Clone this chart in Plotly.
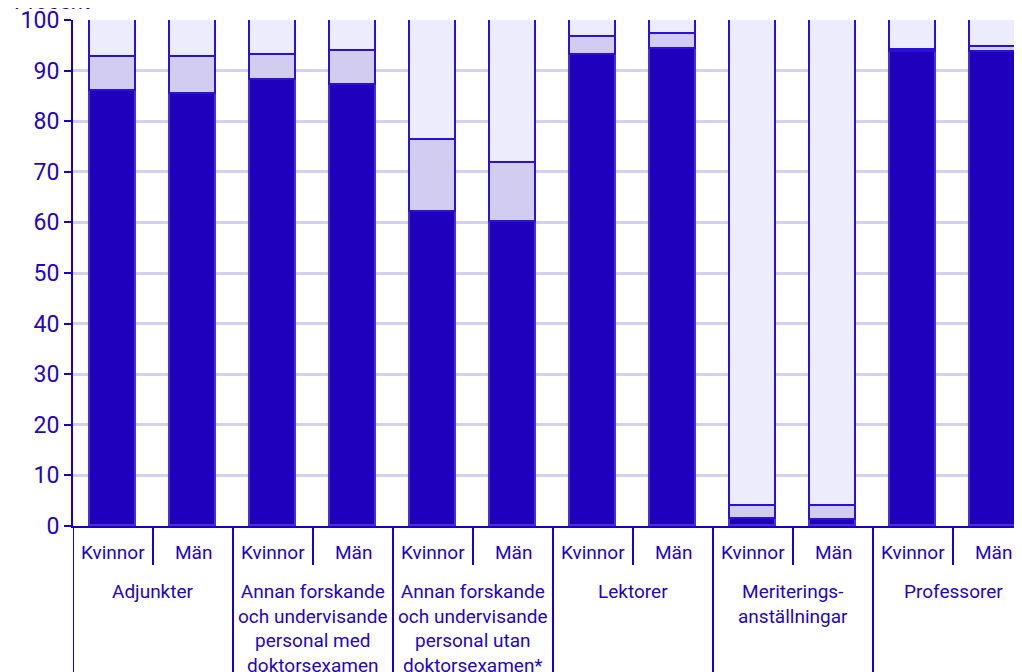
import plotly.graph_objects as go

groups = [
    "Adjunkter",
    "Annan forskande<br>och undervisande<br>personal med<br>doktorsexamen",
    "Annan forskande<br>och undervisande<br>personal utan<br>doktorsexamen*",
    "Lektorer",
    "Meriterings-<br>anställningar",
    "Professorer",
]
sexes = ["Kvinnor", "Män"]

# Shares (percent) per bar: order = group x sex
share_dark = [86.0, 85.4, 88.1, 87.2, 62.1, 60.0, 93.1, 94.3, 1.3, 1.2, 93.6, 93.7]
share_mid = [6.7, 7.3, 4.9, 6.7, 14.2, 11.7, 3.6, 3.0, 2.7, 2.8, 0.5, 1.0]
share_light = [round(100 - a - b, 1) for a, b in zip(share_dark, share_mid)]

series_names = ["Andel 1", "Andel 2", "Andel 3"]

BLUE = "#2000c0"
TEXT = "#2205c8"
GRID = "#d3cfef"
FONT = "Roboto"

n = len(groups) * len(sexes)
xs = list(range(n))
labels = [sexes[i % 2] for i in xs]

PH = 506  # plot height in px

fig = go.Figure()
for vals, col, name, edge in [
    (share_dark, "#1f00bd", series_names[0], "#4a30d4"),
    (share_mid, "#d2cdf0", series_names[1], "#2a10d8"),
    (share_light, "#ececfd", series_names[2], "#2a10d8"),
]:
    fig.add_trace(go.Bar(
        x=xs, y=vals, name=name, width=0.575,
        marker=dict(color=col, line=dict(color=edge, width=1.6)),
    ))

shapes = []
for k in range(n):
    boundary = k - 0.5
    if k % 2 == 0:
        shapes.append(dict(type="line", xref="x", yref="paper", x0=boundary, x1=boundary,
                           y0=0, y1=-0.32, line=dict(color=BLUE, width=2)))
    else:
        shapes.append(dict(type="line", xref="x", yref="paper", x0=boundary, x1=boundary,
                           y0=0, y1=-39 / PH, line=dict(color=BLUE, width=2)))

annotations = []
for k in range(n):
    annotations.append(dict(x=k, y=-26 / PH, xref="x", yref="paper", text=labels[k],
                            showarrow=False, xanchor="center", yanchor="middle",
                            font=dict(family=FONT, size=19, color=TEXT)))
for g, name in enumerate(groups):
    annotations.append(dict(x=2 * g + 0.5, y=-52 / PH, xref="x", yref="paper", text=name,
                            showarrow=False, xanchor="center", yanchor="top",
                            font=dict(family=FONT, size=19, color=TEXT)))
annotations.append(dict(x=-61 / 957, y=1 + 4 / PH, xref="paper", yref="paper", text="Procent",
                        showarrow=False, xanchor="left", yanchor="bottom",
                        font=dict(family=FONT, size=22, color=TEXT)))

fig.update_layout(
    width=1022, height=672,
    margin=dict(l=65, r=0, t=12, b=154),
    barmode="stack",
    bargap=0,
    showlegend=False,
    plot_bgcolor="white",
    paper_bgcolor="white",
    font=dict(family=FONT, color=TEXT),
    shapes=shapes,
    annotations=annotations,
    xaxis=dict(range=[-0.5, 11.4625], showticklabels=False, ticks="",
               showgrid=False, zeroline=False, showline=True, linecolor=BLUE, linewidth=2),
    yaxis=dict(range=[0, 100], dtick=10, ticks="outside", ticklen=7, tickwidth=2,
               tickcolor=BLUE, showline=True, linecolor=BLUE, linewidth=2,
               showgrid=True, gridcolor=GRID, gridwidth=2.5, zeroline=False,
               ticklabeloverflow="allow",
               tickfont=dict(family=FONT, size=23, color=TEXT)),
)

fig.write_html("out.html")
